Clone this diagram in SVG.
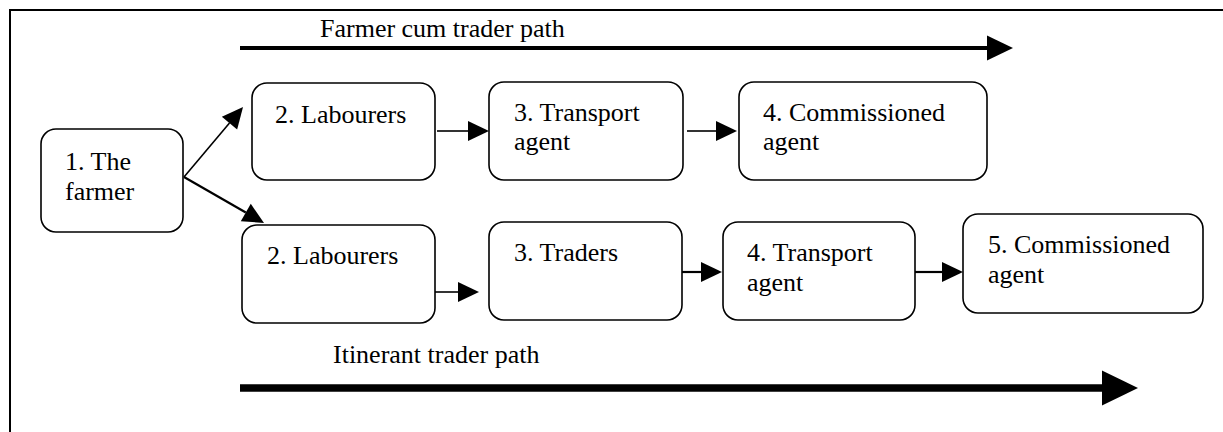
<svg xmlns="http://www.w3.org/2000/svg" width="1223" height="432" viewBox="0 0 1223 432">
  <style>
    .node rect { fill: #fff; stroke: #000; stroke-width: 1.6; }
    .node text, .label { font-family: "Liberation Serif", "Times New Roman", serif; font-size: 26px; fill: #000; }
    .link { fill: none; stroke: #000; stroke-width: 1.6; }
    .link.heavy { stroke-width: 2.2; }
  </style>
  <defs>
    <!-- arrowheads start at the line end, so thick strokes never poke past the tip -->
    <marker id="head" markerUnits="userSpaceOnUse" markerWidth="22" markerHeight="22" refX="0" refY="10" orient="auto" overflow="visible">
      <path d="M0,0 L21,10 L0,20 Z" fill="#000"/>
    </marker>
    <marker id="head-mid" markerUnits="userSpaceOnUse" markerWidth="28" markerHeight="28" refX="0" refY="12.5" orient="auto" overflow="visible">
      <path d="M0,0 L26,12.5 L0,25 Z" fill="#000"/>
    </marker>
    <marker id="head-big" markerUnits="userSpaceOnUse" markerWidth="38" markerHeight="38" refX="0" refY="17.5" orient="auto" overflow="visible">
      <path d="M0,0 L36,17.5 L0,35 Z" fill="#000"/>
    </marker>
  </defs>

  <!-- outer frame -->
  <rect x="10" y="10" width="1230" height="440" fill="#fff" stroke="#000" stroke-width="2"/>

  <!-- path banners -->
  <g id="farmer-cum-trader-path">
    <text class="label" x="320" y="37">Farmer cum trader path</text>
    <line x1="240" y1="48" x2="987" y2="48" stroke="#000" stroke-width="4" marker-end="url(#head-mid)"/>
  </g>
  <g id="itinerant-trader-path">
    <text class="label" x="333" y="363">Itinerant trader path</text>
    <line x1="240" y1="388" x2="1102" y2="388" stroke="#000" stroke-width="7.5" marker-end="url(#head-big)"/>
  </g>

  <!-- nodes -->
  <g id="farmer" class="node">
    <rect x="41" y="129" width="142" height="103" rx="15"/>
    <text x="65" y="170">1. The</text>
    <text x="65" y="200">farmer</text>
  </g>

  <g id="labourers-a" class="node">
    <rect x="252" y="83" width="183" height="97" rx="15"/>
    <text x="275" y="123">2. Labourers</text>
  </g>
  <g id="transport-a" class="node">
    <rect x="489" y="82" width="194" height="98" rx="15"/>
    <text x="514" y="121">3. Transport</text>
    <text x="514" y="150">agent</text>
  </g>
  <g id="commissioned-a" class="node">
    <rect x="739" y="82" width="248" height="98" rx="15"/>
    <text x="763" y="121">4. Commissioned</text>
    <text x="763" y="150">agent</text>
  </g>

  <g id="labourers-b" class="node">
    <rect x="242" y="225" width="193" height="98" rx="15"/>
    <text x="267" y="264">2. Labourers</text>
  </g>
  <g id="traders-b" class="node">
    <rect x="489" y="222" width="193" height="98" rx="15"/>
    <text x="514" y="261">3. Traders</text>
  </g>
  <g id="transport-b" class="node">
    <rect x="723" y="222" width="192" height="98" rx="15"/>
    <text x="747" y="261">4. Transport</text>
    <text x="747" y="291">agent</text>
  </g>
  <g id="commissioned-b" class="node">
    <rect x="963" y="214" width="240" height="99" rx="15"/>
    <text x="988" y="253">5. Commissioned</text>
    <text x="988" y="283">agent</text>
  </g>

  <!-- connectors (each line stops where its arrowhead begins) -->
  <g id="connectors">
    <line class="link" x1="184" y1="177" x2="229.5" y2="123.1" marker-end="url(#head)"/>
    <line class="link heavy" x1="184" y1="177" x2="245.8" y2="212.5" marker-end="url(#head)"/>
    <line class="link" x1="437" y1="131" x2="468" y2="131" marker-end="url(#head)"/>
    <line class="link" x1="687" y1="131" x2="716" y2="131" marker-end="url(#head)"/>
    <line class="link" x1="435" y1="292" x2="458" y2="292" marker-end="url(#head)"/>
    <line class="link heavy" x1="682" y1="272" x2="701" y2="272" marker-end="url(#head)"/>
    <line class="link heavy" x1="915" y1="272" x2="942" y2="272" marker-end="url(#head)"/>
  </g>
</svg>
